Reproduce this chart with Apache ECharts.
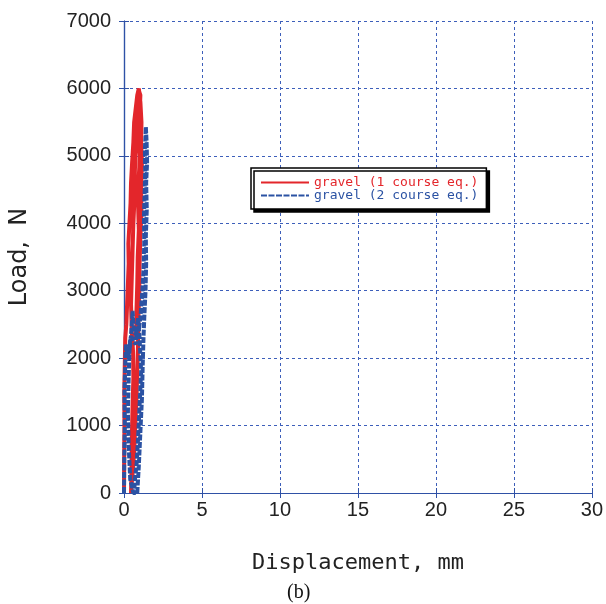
<!DOCTYPE html>
<html>
<head>
<meta charset="utf-8">
<script src="https://cdn.jsdelivr.net/npm/echarts@6/dist/echarts.min.js"></script>
<style>
  html, body { margin: 0; padding: 0; background: #fff; }
  #container { width: 606px; height: 604px; }
</style>
</head>
<body>
<div id="container"></div>
<script>
"use strict";

// 荷重-変位 (gravel)
const xTicks = [0, 5, 10, 15, 20, 25, 30];
const yTicks = [0, 1000, 2000, 3000, 4000, 5000, 6000, 7000];

// gravel (1 course eq.)
const redDisp = [0, 0.01, 0.03, 0.02, 0.05, 0.08, 0.15, 0.2, 0.25, 0.3, 0.28, 0.35, 0.42, 0.45, 0.52, 0.6, 0.65, 0.75, 0.85, 0.95, 1.0,
  1.05, 1.12, 1.1, 1.15, 1.1, 1.12, 1.05, 1.0, 0.98, 0.92, 0.9, 0.85, 0.8, 0.72, 0.65, 0.55, 0.45,
  0.48, 0.5, 0.55, 0.6, 0.58, 0.5, 0.45, 0.5, 0.55, 0.6, 0.68, 0.7, 0.78, 0.82, 0.9, 0.98, 1.05,
  1.0, 0.95, 1.02, 0.95, 0.9, 0.95, 0.88, 0.85, 0.8, 0.78];
const redLoad = [0, 500, 1000, 1500, 1900, 2300, 2500, 2800, 3100, 3400, 3700, 4000, 4300, 4600, 4900, 5200, 5500, 5700, 5900, 6000, 6020,
  5800, 5500, 5200, 4900, 4500, 4150, 3800, 3400, 3000, 2600, 2200, 1800, 1400, 1000, 600, 300, 0,
  300, 800, 1300, 1700, 2100, 2400, 2800, 3200, 3600, 4000, 4400, 4800, 5200, 5500, 5750, 5950, 5900,
  5600, 5300, 5000, 4700, 4300, 3900, 3500, 3100, 2700, 2300];

// gravel (2 course eq.)
const blueDisp = [0, 0.02, 0.05, 0.03, 0.08, 0.12, 0.2, 0.3, 0.4, 0.5, 0.55, 0.6, 0.65, 0.75, 0.85, 0.95, 1.05,
  1.15, 1.25, 1.3, 1.28, 1.33, 1.36, 1.34, 1.38, 1.4,
  1.45, 1.48, 1.42, 1.46, 1.4, 1.42, 1.38, 1.3, 1.25, 1.2, 1.15, 1.05, 0.95, 0.85,
  0.6, 0.4, 0.3, 0.25, 0.3, 0.35, 0.4, 0.55, 0.75, 0.9, 1.0, 1.1, 1.0, 0.9, 0.8, 0.7, 0.65];
const blueLoad = [0, 500, 1000, 1500, 1900, 2200, 2100, 2050, 2200, 2500, 2700, 2500, 2400, 2350, 2450, 2400,
  2600, 2900, 3300, 3700, 4100, 4500, 4800, 5100, 5300, 5430,
  5200, 4900, 4600, 4200, 3800, 3400, 3000, 2600, 2300, 1900, 1400, 900, 400, 0,
  0, 200, 700, 1200, 1700, 2100, 2300, 2300, 2200, 2600, 2300, 1800, 1300, 800, 400, 200, 0];

const zip = (xs, ys) => xs.map((x, i) => [x, ys[i]]);

let myChart = echarts.init(document.getElementById('container'));

const frameColor = '#2f51a6';
const gridStyle = { color: '#3d5fba', width: 1, type: [3, 3] };

let option = {
  animation: false,
  grid: { // 座標系
    left: 121,
    right: 12,
    top: 21,
    bottom: 111,
  },
  legend: { // 凡例
    orient: 'vertical',
    left: 251,
    top: 168,
    padding: [8, 8, 7, 9],
    itemWidth: 48,
    itemHeight: 12,
    itemGap: 0,
    itemStyle: { opacity: 0 },
    backgroundColor: '#fff',
    borderColor: '#000',
    borderWidth: 1.5,
    shadowColor: '#000',
    shadowBlur: 0,
    shadowOffsetX: 3,
    shadowOffsetY: 3,
    textStyle: {
      fontFamily: 'DejaVu Sans Mono',
      fontSize: 13,
      lineHeight: 12,
    },
    data: [
      { name: 'gravel (1 course eq.)', textStyle: { color: '#e3262b' } },
      { name: 'gravel (2 course eq.)', textStyle: { color: '#2b52a3' } },
    ],
  },
  xAxis: [
    {
      type: 'value',
      min: xTicks[0],
      max: xTicks[xTicks.length - 1],
      interval: 5,
      name: 'Displacement, mm',
      nameLocation: 'middle',
      nameGap: 59,
      nameTextStyle: { fontFamily: 'DejaVu Sans Mono', fontSize: 22, color: '#222' },
      axisLine: { show: true, lineStyle: { color: frameColor, width: 1.2 } },
      axisTick: { show: true, inside: true, length: 5, lineStyle: { color: frameColor } },
      axisLabel: { fontFamily: 'Liberation Sans', fontSize: 20, color: '#222', margin: 7 },
      splitLine: { show: true, lineStyle: gridStyle },
    },
    { // 上辺
      type: 'value',
      position: 'top',
      min: xTicks[0],
      max: xTicks[xTicks.length - 1],
      interval: 5,
      axisLine: { show: true, lineStyle: { color: frameColor, width: 1.2 } },
      axisTick: { show: true, inside: true, length: 5, lineStyle: { color: frameColor } },
      axisLabel: { show: false },
      splitLine: { show: false },
    },
  ],
  yAxis: [
    {
      type: 'value',
      min: yTicks[0],
      max: yTicks[yTicks.length - 1],
      interval: 1000,
      name: 'Load,  N',
      nameLocation: 'middle',
      nameGap: 92,
      nameTextStyle: { fontFamily: 'DejaVu Sans', fontSize: 24, color: '#222' },
      axisLine: { show: true, lineStyle: { color: frameColor, width: 1.2 } },
      axisTick: { show: true, inside: true, length: 5, lineStyle: { color: frameColor } },
      axisLabel: {
        fontFamily: 'Liberation Sans', fontSize: 20, color: '#222', margin: 13,
        formatter: function (value) {
          return String(value);
        },
      },
      splitLine: { show: true, lineStyle: gridStyle },
    },
    { // 右辺
      type: 'value',
      position: 'right',
      min: yTicks[0],
      max: yTicks[yTicks.length - 1],
      interval: 1000,
      axisLine: { show: true, lineStyle: { color: frameColor, width: 1.2 } },
      axisTick: { show: true, inside: true, length: 5, lineStyle: { color: frameColor } },
      axisLabel: { show: false },
      splitLine: { show: false },
    },
  ],
  graphic: [
    {
      type: 'text',
      left: 287,
      top: 583,
      style: { text: '(b)', font: '20px "Liberation Serif"', fill: '#111' },
    },
  ],
  series: [
    {
      name: 'gravel (1 course eq.)',
      type: 'line',
      xAxisIndex: 0,
      yAxisIndex: 0,
      symbol: 'none',
      color: '#e3262b',
      lineStyle: { color: '#e3262b', width: 4 },
      data: zip(redDisp, redLoad),
    },
    {
      name: 'gravel (2 course eq.)',
      type: 'line',
      xAxisIndex: 0,
      yAxisIndex: 0,
      symbol: 'none',
      color: '#2b52a3',
      lineStyle: { color: '#2b52a3', width: 4, type: [6, 1.5] },
      data: zip(blueDisp, blueLoad),
    },
  ],
};

myChart.setOption(option);
</script>
</body>
</html>
